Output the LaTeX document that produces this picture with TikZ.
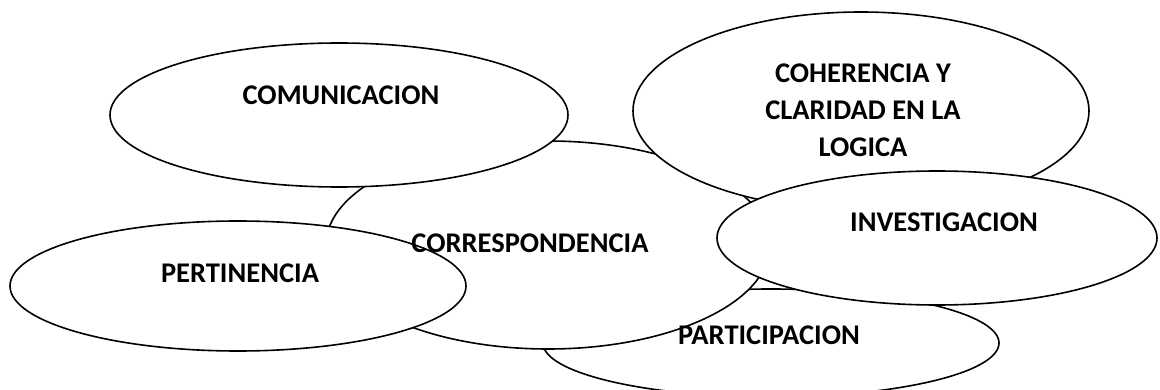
\documentclass[tikz,border=0pt]{standalone}
\usepackage{fontspec}
\setmainfont{Carlito}
\usetikzlibrary{shapes.geometric}
\begin{document}
\begin{tikzpicture}[x=1pt,y=-1pt,
  oval/.style={ellipse, draw=black, line width=1.6pt, fill=white, inner sep=0pt},
  lbl/.style={font=\fontsize{28.5}{37}\selectfont\bfseries, align=center, inner sep=0pt}]
\useasboundingbox (0,0) rectangle (1160,390);
\clip (0,0) rectangle (1160,390);
\node[oval, minimum width=456pt, minimum height=108pt] (part) at (771,343) {};
\node[oval, minimum width=444pt, minimum height=208pt] (corr) at (548,245) {};
\node[oval, minimum width=458pt, minimum height=144pt] (comu) at (339,115) {};
\node[oval, minimum width=456pt, minimum height=198pt] (cohe) at (861,111) {};
\node[oval, minimum width=456pt, minimum height=130pt] (pert) at (238,286) {};
\node[oval, minimum width=440pt, minimum height=134pt] (inve) at (937,238) {};
\node[lbl] (tcomu) at (341,95) {COMUNICACION};
\node[lbl] (tcohe) at (863,110) {COHERENCIA Y\\CLARIDAD EN LA\\LOGICA};
\node[lbl] (tcorr) at (530,243) {CORRESPONDENCIA};
\node[lbl] (tinve) at (944,222) {INVESTIGACION};
\node[lbl] (tpert) at (240,273) {PERTINENCIA};
\node[lbl] (tpart) at (769,335) {PARTICIPACION};
\end{tikzpicture}
\end{document}
